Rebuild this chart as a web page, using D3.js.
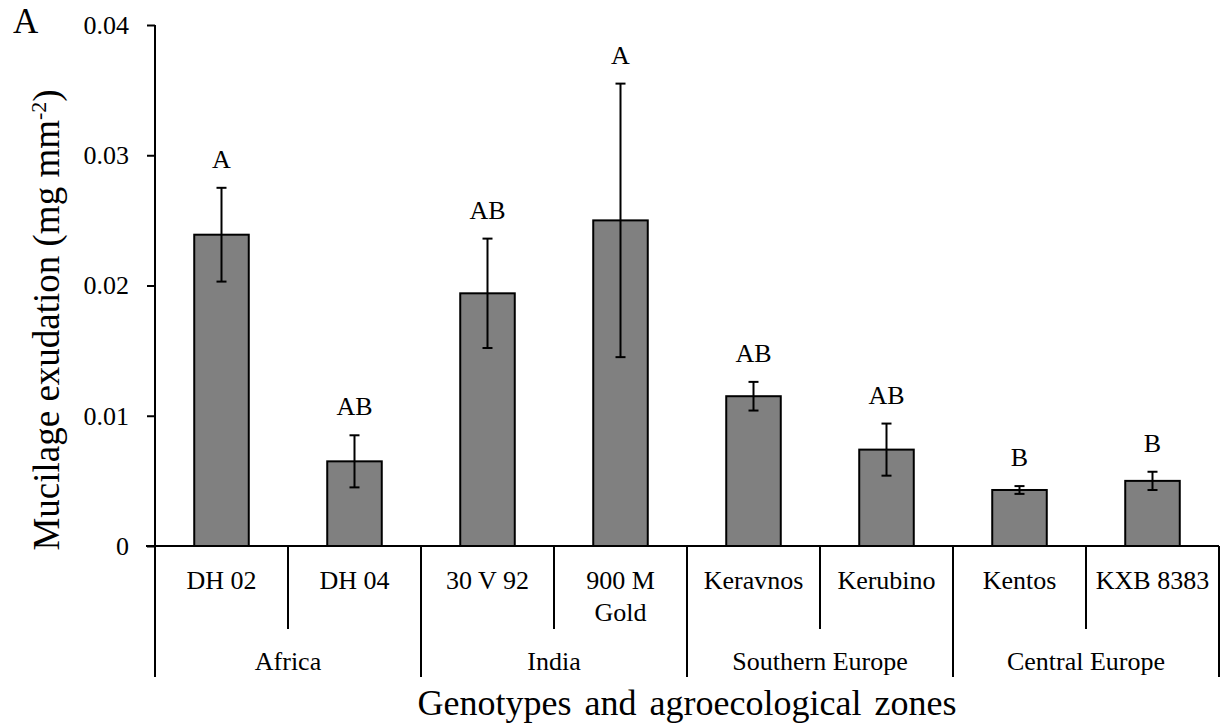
<!DOCTYPE html>
<meta charset="utf-8">
<style>
html, body {
  margin: 0;
  background: #fff;
}

.chart text {
  font-family: "Liberation Serif", "Times New Roman", serif;
  fill: #000;
}

.chart .bar {
  fill: #808080;
  stroke: #000;
  stroke-width: 2;
}

.chart .err,
.chart .rule {
  stroke: #000;
  stroke-width: 2;
  fill: none;
}
</style>
<body>
<svg class="chart" width="1222" height="725"></svg>

<script src="https://d3js.org/d3.v7.min.js"></script>
<script type="text/javascript">
"use strict";

var genotypes = ["DH 02", "DH 04", "30 V 92", "900 M Gold", "Keravnos", "Kerubino", "Kentos", "KXB 8383"];
var zones = ["Africa", "India", "Southern Europe", "Central Europe"];
var zoneOf = ["Africa", "Africa", "India", "India", "Southern Europe", "Southern Europe", "Central Europe", "Central Europe"];
var means = [0.0239, 0.0065, 0.0194, 0.0250, 0.0115, 0.0074, 0.0043, 0.0050];
var errors = [0.0036, 0.0020, 0.0042, 0.0105, 0.0011, 0.0020, 0.0003, 0.0007];
var letters = ["A", "AB", "AB", "A", "AB", "AB", "B", "B"];
var yTicks = [0, 0.01, 0.02, 0.03, 0.04];

var plotLeft = 155, plotRight = 1219, plotTop = 25, base = 546,
  catBottom = 629, zoneBottom = 677;

var svg = d3.select(".chart");

var x = d3.scaleBand().domain(genotypes).range([plotLeft, plotRight]).padding(0);
var y = d3.scaleLinear().domain([0, 0.04]).range([base, plotTop]);
var barW = x.bandwidth() * 0.41;

var data = genotypes.map(function(g, i) {
  return { name: g, zone: zoneOf[i], mean: means[i], err: errors[i], letter: letters[i] };
});

// y axis
var yAxis = svg.append("g")
  .attr("transform", "translate(" + plotLeft + ",0)")
  .call(d3.axisLeft(y)
    .tickValues(yTicks)
    .tickSize(8)
    .tickPadding(18)
    .tickFormat(function(d) { return d === 0 ? "0" : d.toFixed(2); }));
yAxis.select(".domain").remove();
yAxis.selectAll(".tick line").attr("stroke", "#000").attr("stroke-width", 2);
yAxis.selectAll(".tick text").style("font-size", "26px");
yAxis.attr("font-family", null).attr("font-size", null);

svg.append("line").attr("class", "rule")
  .attr("x1", plotLeft).attr("x2", plotLeft)
  .attr("y1", y(0.04)).attr("y2", zoneBottom);

// bars
svg.selectAll(".bar").data(data).enter().append("rect")
  .attr("class", "bar")
  .attr("x", function(d) { return x(d.name) + (x.bandwidth() - barW) / 2; })
  .attr("width", barW)
  .attr("y", function(d) { return y(d.mean); })
  .attr("height", function(d) { return base - y(d.mean); });

// error bars + significance letters
var err = svg.selectAll(".errg").data(data).enter().append("g")
  .attr("transform", function(d) { return "translate(" + (x(d.name) + x.bandwidth() / 2) + ",0)"; });
err.append("line").attr("class", "err")
  .attr("y1", function(d) { return y(d.mean + d.err); })
  .attr("y2", function(d) { return y(d.mean - d.err); });
err.append("line").attr("class", "err")
  .attr("x1", -5).attr("x2", 5)
  .attr("y1", function(d) { return y(d.mean + d.err); })
  .attr("y2", function(d) { return y(d.mean + d.err); });
err.append("line").attr("class", "err")
  .attr("x1", -5).attr("x2", 5)
  .attr("y1", function(d) { return y(d.mean - d.err); })
  .attr("y2", function(d) { return y(d.mean - d.err); });
err.append("text")
  .attr("text-anchor", "middle")
  .attr("y", function(d) { return y(d.mean + d.err) - 20; })
  .style("font-size", "26px")
  .text(function(d) { return d.letter; });

// x axis line
svg.append("line").attr("class", "rule")
  .attr("x1", plotLeft - 9).attr("x2", plotRight)
  .attr("y1", base).attr("y2", base);

// separators between genotypes and between zones
genotypes.forEach(function(g, i) {
  if (i === 0) return;
  var newZone = zoneOf[i] !== zoneOf[i - 1];
  svg.append("line").attr("class", "rule")
    .attr("x1", x(g)).attr("x2", x(g))
    .attr("y1", base).attr("y2", newZone ? zoneBottom : catBottom);
});
svg.append("line").attr("class", "rule")
  .attr("x1", plotRight).attr("x2", plotRight)
  .attr("y1", base).attr("y2", zoneBottom);

// genotype labels, wrapped to the band width
svg.selectAll(".cat").data(genotypes).enter().append("text")
  .attr("class", "cat")
  .attr("text-anchor", "middle")
  .attr("x", function(d) { return x(d) + x.bandwidth() / 2; })
  .attr("y", 589)
  .style("font-size", "26px")
  .text(function(d) { return d; })
  .each(function(d) { wrap(d3.select(this), x.bandwidth() - 10); });

// zone labels
zones.forEach(function(z) {
  var members = genotypes.filter(function(g, i) { return zoneOf[i] === z; });
  var x0 = x(members[0]), x1 = x(members[members.length - 1]) + x.bandwidth();
  svg.append("text")
    .attr("text-anchor", "middle")
    .attr("x", (x0 + x1) / 2)
    .attr("y", 670)
    .style("font-size", "26px")
    .text(z);
});

// titles
svg.append("text")
  .attr("text-anchor", "middle")
  .attr("x", (plotLeft + plotRight) / 2)
  .attr("y", 715)
  .style("font-size", "36px")
  .style("word-spacing", "4px")
  .text("Genotypes and agroecological zones");

var yTitle = svg.append("text")
  .attr("text-anchor", "middle")
  .attr("transform", "translate(59,320) rotate(-90)")
  .style("font-size", "37px");
yTitle.append("tspan").text("Mucilage exudation (mg mm");
yTitle.append("tspan").attr("dy", -13).style("font-size", "22px").text("-2");
yTitle.append("tspan").attr("dy", 13).text(")");

svg.append("text")
  .attr("x", 13)
  .attr("y", 33)
  .style("font-size", "35px")
  .text("A");

function wrap(text, width) {
  var words = text.text().split(/\s+/),
    line = [],
    xPos = text.attr("x"),
    tspan = text.text(null).append("tspan").attr("x", xPos);
  words.forEach(function(w) {
    line.push(w);
    tspan.text(line.join(" "));
    if (tspan.node().getComputedTextLength() > width && line.length > 1) {
      line.pop();
      tspan.text(line.join(" "));
      line = [w];
      tspan = text.append("tspan").attr("x", xPos).attr("dy", "32px").text(w);
    }
  });
}
</script>
</body>
